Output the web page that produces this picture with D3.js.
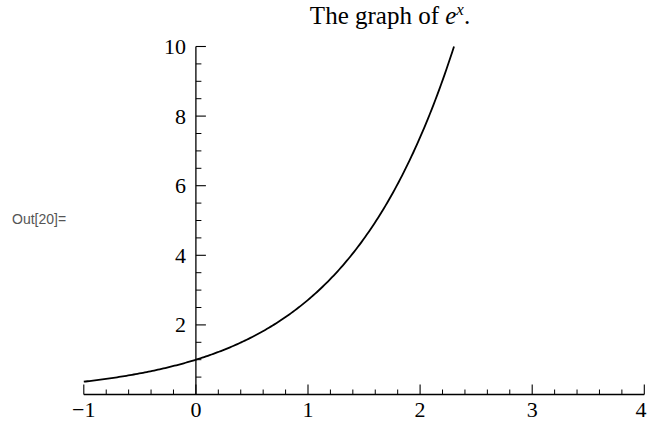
<!DOCTYPE html>
<html>
<head>
<meta charset="utf-8">
<script src="https://cdn.jsdelivr.net/npm/d3@7"></script>
<style>
  html, body { margin: 0; padding: 0; background: #fff; }
  svg { display: block; }
  .tick-label { font-family: "Liberation Serif", "Times New Roman", serif; font-size: 22px; fill: #000; }
  .title { font-family: "Liberation Serif", "Times New Roman", serif; font-size: 25px; fill: #000; }
</style>
</head>
<body>
<svg id="chart" width="647" height="422"></svg>
<script>
// Domain and tick values for the plot of e^x
const xDomain = [-1, 4];
const yDomain = [0, 10];
const xMajorTicks = [-1, 0, 1, 2, 3, 4];
const xMajorLabels = ["\u22121", "0", "1", "2", "3", "4"];
const yMajorTicks = [2, 4, 6, 8, 10];
const yMajorLabels = ["2", "4", "6", "8", "10"];
const xMinorStep = 0.2;
const yMinorStep = 0.5;
// Curve runs from x = -1 up to where e^x reaches the top of the range
const curveStart = -1;
const curveEnd = Math.log(10);
const curveSamples = 200;

const width = 647;
const svg = d3.select("#chart");

const x = d3.scaleLinear().domain(xDomain).range([83.8, 644.3]);
const y = d3.scaleLinear().domain(yDomain).range([394.5, 46.5]);

const axisColor = "#000";

// Minor tick positions
const xMinor = d3.range(xDomain[0], xDomain[1] + 1e-9, xMinorStep)
  .filter(v => !xMajorTicks.some(m => Math.abs(m - v) < 1e-6));
const yMinor = d3.range(yMinorStep, yDomain[1] + 1e-9, yMinorStep)
  .filter(v => !yMajorTicks.some(m => Math.abs(m - v) < 1e-6));

// Horizontal axis, crossing at y = 0
const gx = svg.append("g");
gx.append("line")
  .attr("x1", x(xDomain[0])).attr("x2", x(xDomain[1]))
  .attr("y1", y(0)).attr("y2", y(0))
  .attr("stroke", axisColor).attr("stroke-width", 1.3);
gx.selectAll("line.major").data(xMajorTicks).join("line")
  .attr("class", "major")
  .attr("x1", d => x(d)).attr("x2", d => x(d))
  .attr("y1", y(0)).attr("y2", y(0) - 10)
  .attr("stroke", axisColor).attr("stroke-width", 1.1);
gx.selectAll("line.minor").data(xMinor).join("line")
  .attr("class", "minor")
  .attr("x1", d => x(d)).attr("x2", d => x(d))
  .attr("y1", y(0)).attr("y2", y(0) - 5)
  .attr("stroke", axisColor).attr("stroke-width", 1);
// Labels are centred on their ticks; the last one is kept inside the frame
gx.selectAll("text").data(xMajorTicks).join("text")
  .attr("class", "tick-label")
  .attr("x", d => Math.min(x(d), width - 6))
  .attr("y", 417)
  .attr("text-anchor", "middle")
  .text((d, i) => xMajorLabels[i]);

// Vertical axis, crossing at x = 0
const gy = svg.append("g");
gy.append("line")
  .attr("x1", x(0)).attr("x2", x(0))
  .attr("y1", y(0)).attr("y2", y(yDomain[1]))
  .attr("stroke", axisColor).attr("stroke-width", 1.3);
gy.selectAll("line.major").data(yMajorTicks).join("line")
  .attr("class", "major")
  .attr("x1", x(0)).attr("x2", x(0) + 10)
  .attr("y1", d => y(d)).attr("y2", d => y(d))
  .attr("stroke", axisColor).attr("stroke-width", 1.1);
gy.selectAll("line.minor").data(yMinor).join("line")
  .attr("class", "minor")
  .attr("x1", x(0)).attr("x2", x(0) + 5.5)
  .attr("y1", d => y(d)).attr("y2", d => y(d))
  .attr("stroke", axisColor).attr("stroke-width", 1);
gy.selectAll("text").data(yMajorTicks).join("text")
  .attr("class", "tick-label")
  .attr("x", x(0) - 10).attr("y", d => y(d))
  .attr("dy", "0.34em")
  .attr("text-anchor", "end")
  .text((d, i) => yMajorLabels[i]);

// The curve y = e^x
const pts = d3.range(curveSamples + 1).map(i => {
  const t = curveStart + (curveEnd - curveStart) * i / curveSamples;
  return [t, Math.exp(t)];
});
svg.append("path")
  .datum(pts)
  .attr("fill", "none")
  .attr("stroke", "#000")
  .attr("stroke-width", 1.8)
  .attr("d", d3.line().x(d => x(d[0])).y(d => y(d[1])));

// Title
const title = svg.append("text")
  .attr("class", "title")
  .attr("x", 390).attr("y", 24)
  .attr("text-anchor", "middle");
title.append("tspan").text("The graph of ");
title.append("tspan").attr("font-style", "italic").text("e");
title.append("tspan").attr("font-style", "italic").attr("font-size", "17px").attr("dy", "-9").text("x");
title.append("tspan").attr("dy", "9").text(".");

// Output cell label
svg.append("text")
  .attr("x", 12).attr("y", 224)
  .attr("font-family", "Arial, 'Liberation Sans', sans-serif")
  .attr("font-size", "14px")
  .attr("fill", "#555")
  .text("Out[20]=");
</script>
</body>
</html>
